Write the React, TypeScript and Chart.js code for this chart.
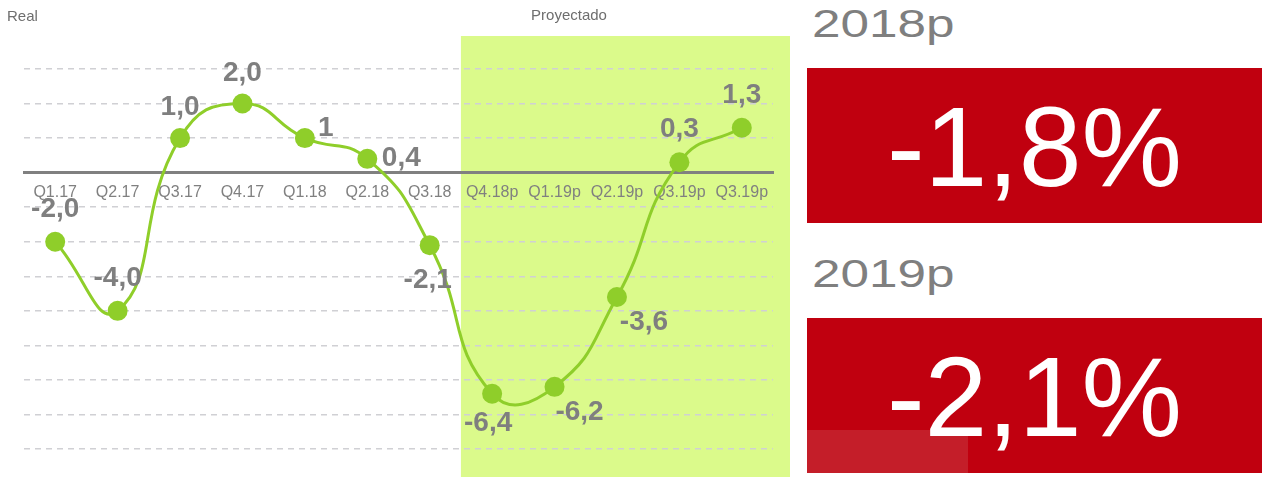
import React, { useEffect, useRef } from "react";
import { Chart, registerables } from "chart.js";

Chart.register(...registerables);

// ---- data ----
const categories = [
  "Q1.17", "Q2.17", "Q3.17", "Q4.17", "Q1.18", "Q2.18",
  "Q3.18", "Q4.18p", "Q1.19p", "Q2.19p", "Q3.19p", "Q3.19p",
];
const values = [-2.0, -4.0, 1.0, 2.0, 1.0, 0.4, -2.1, -6.4, -6.2, -3.6, 0.3, 1.3];
const valueLabels = ["-2,0", "-4,0", "1,0", "2,0", "1", "0,4", "-2,1", "-6,4", "-6,2", "-3,6", "0,3", "1,3"];
const yMin = -8;
const yMax = 3;
const projectedStartIndex = 7;
const summaryYears = ["2018p", "2019p"];
const summaryValues = ["-1,8%", "-2,1%"];
const sectionLabels = ["Real", "Proyectado"];

// ---- styling (label offsets relative to each point, in px) ----
const labelOffsets: [number, number][] = [
  [0, -32], [0, -33], [0, -31], [0, -30], [21, -10], [34, -1],
  [-2, 35], [-4, 30], [25, 25], [27, 25], [0, -33], [0, -32],
];

const FONT = "'Liberation Sans', Arial, Helvetica, sans-serif";
const GREEN = "#8fce2a";
const SHADE = "#dbfa8b";
const GREY = "#7f7f7f";
const RED = "#c0000f";

const shadePlugin = {
  id: "shade",
  beforeDraw(chart: any) {
    const { ctx, width, height } = chart;
    const x = chart.scales.x;
    const left = x.getPixelForValue(projectedStartIndex - 0.5);
    ctx.save();
    ctx.fillStyle = SHADE;
    ctx.fillRect(left, 36, width - left, height - 36);
    ctx.restore();
  },
};

const valueLabelPlugin = {
  id: "valueLabels",
  afterDatasetsDraw(chart: any) {
    const { ctx } = chart;
    const meta = chart.getDatasetMeta(0);
    ctx.save();
    ctx.fillStyle = GREY;
    ctx.font = `bold 28px ${FONT}`;
    ctx.textAlign = "center";
    ctx.textBaseline = "middle";
    meta.data.forEach((pt: any, i: number) => {
      const [dx, dy] = labelOffsets[i];
      ctx.fillText(valueLabels[i], pt.x + dx, pt.y + dy);
    });
    ctx.restore();
  },
};

function LineChart() {
  const ref = useRef<HTMLCanvasElement | null>(null);
  useEffect(() => {
    if (!ref.current) return;
    const chart = new Chart(ref.current, {
      type: "line",
      data: {
        labels: categories,
        datasets: [
          {
            data: values,
            borderColor: GREEN,
            backgroundColor: GREEN,
            borderWidth: 3,
            tension: 0.5,
            pointRadius: 10,
            pointHoverRadius: 10,
            pointBackgroundColor: GREEN,
            pointBorderWidth: 0,
            clip: false as any,
          },
        ],
      },
      options: {
        animation: false,
        responsive: false,
        devicePixelRatio: 1,
        layout: { padding: { left: 24, right: 17, top: 69, bottom: 28 } },
        plugins: {
          legend: { display: false },
          tooltip: { enabled: false },
        },
        scales: {
          x: {
            type: "category",
            position: { y: 0 } as any,
            offset: true,
            grid: { display: false, drawTicks: false },
            border: { display: true, color: "#808080", width: 3 },
            ticks: {
              color: "#808080",
              font: { size: 16, family: FONT },
              padding: 10,
              maxRotation: 0,
              autoSkip: false,
            },
          },
          y: {
            min: yMin,
            max: yMax,
            ticks: { display: false, stepSize: 1 },
            grid: { color: "#d0d0d4", lineWidth: 1.5, drawTicks: false },
            border: { display: false, dash: [6, 5] },
          },
        },
      },
      plugins: [shadePlugin, valueLabelPlugin],
    });
    return () => chart.destroy();
  }, []);
  return (
    <canvas
      ref={ref}
      width={790}
      height={477}
      style={{ position: "absolute", left: 0, top: 0, width: 790, height: 477 }}
    />
  );
}

export default function App() {
  const boxTops = [68, 318];
  const yearTops = [5, 255];
  return (
    <div
      style={{
        position: "absolute",
        left: 0,
        top: 0,
        width: 1268,
        height: 477,
        background: "#ffffff",
        overflow: "hidden",
        fontFamily: FONT,
      }}
    >
      <LineChart />
      <div
        style={{
          position: "absolute",
          left: 7,
          top: 8,
          fontSize: 15,
          lineHeight: "15px",
          color: "#6e6e6e",
        }}
      >
        {sectionLabels[0]}
      </div>
      <div
        style={{
          position: "absolute",
          left: 469,
          width: 200,
          top: 7,
          fontSize: 15,
          lineHeight: "15px",
          color: "#6e6e6e",
          textAlign: "center",
        }}
      >
        {sectionLabels[1]}
      </div>
      {summaryYears.map((yr, i) => (
        <React.Fragment key={i}>
          <div
            style={{
              position: "absolute",
              left: 812,
              top: yearTops[i],
              fontSize: 38,
              lineHeight: "38px",
              color: GREY,
              transform: "scaleX(1.35)",
              transformOrigin: "left center",
              whiteSpace: "nowrap",
            }}
          >
            {yr}
          </div>
          <div
            style={{
              position: "absolute",
              left: 807,
              top: boxTops[i],
              width: 455,
              height: 155,
              background: RED,
              overflow: "hidden",
            }}
          >
            {i === 1 && (
              <div
                style={{
                  position: "absolute",
                  left: 0,
                  top: 112,
                  width: 161,
                  height: 43,
                  background: "#c41e29",
                }}
              />
            )}
            <div
              style={{
                position: "absolute",
                left: 0,
                top: 0,
                width: "100%",
                height: "100%",
                display: "flex",
                alignItems: "center",
                justifyContent: "center",
                color: "#ffffff",
                fontSize: 113,
                lineHeight: "normal",
                paddingTop: 3,
                boxSizing: "border-box",
                whiteSpace: "nowrap",
              }}
            >
              {summaryValues[i]}
            </div>
          </div>
        </React.Fragment>
      ))}
    </div>
  );
}
